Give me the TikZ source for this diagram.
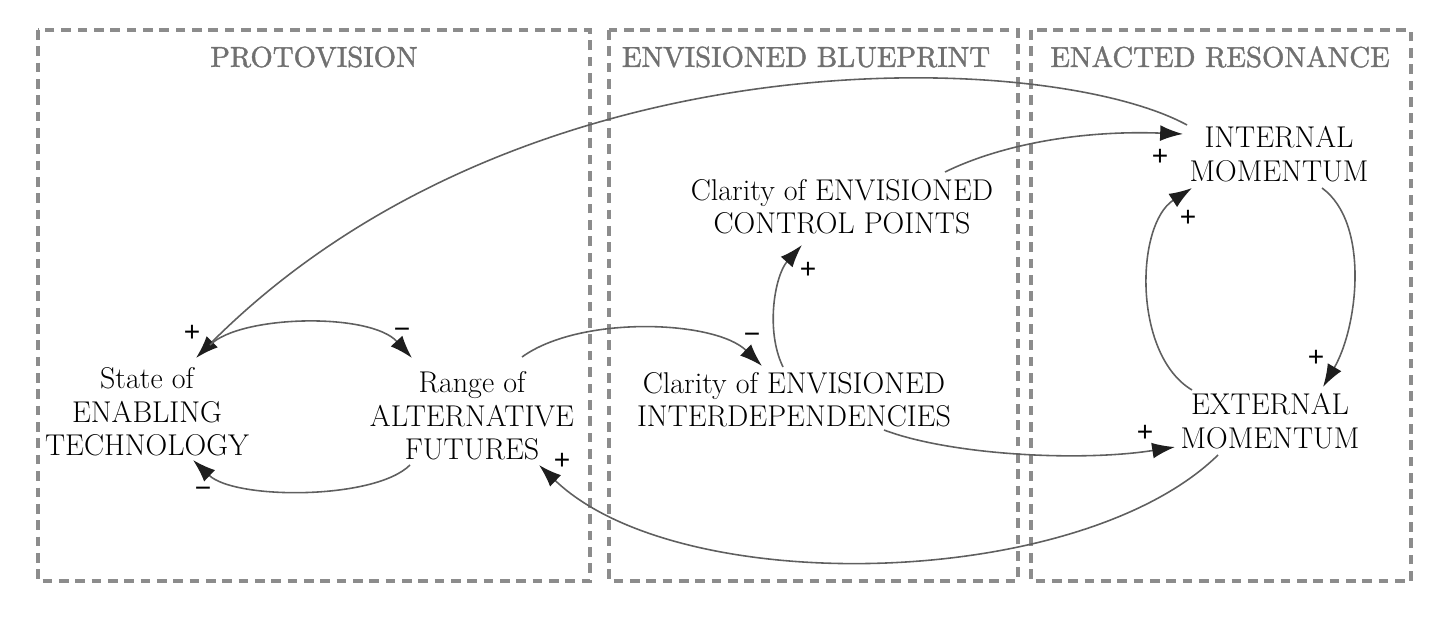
\documentclass[tikz,border=0pt]{standalone}
\usepackage{fontspec}
\newfontfamily\signfont{Liberation Sans}
\newfontfamily\titlefont[FakeBold=1.4]{lmroman10-regular.otf}
\usetikzlibrary{arrows.meta}
\definecolor{boxgray}{RGB}{140,140,140}
\definecolor{titlegray}{RGB}{112,112,112}
\definecolor{linegray}{RGB}{95,95,95}
\definecolor{tipgray}{RGB}{30,30,30}
\begin{document}
\begin{tikzpicture}[x=0.02cm,y=-0.02cm,
  var/.style={font=\fontsize{17.1}{19}\selectfont, align=center, inner sep=0pt},
  title/.style={font=\titlefont\fontsize{16.4}{20}\selectfont, text=titlegray, inner sep=0pt},
  region/.style={draw=boxgray, line width=2pt, dash pattern=on 5.5pt off 3.8pt},
  link/.style={draw=linegray, line width=0.9pt, -{Latex[length=13pt,width=9pt,color=tipgray]}},
  sign/.style={font=\signfont\fontsize{16}{16}\selectfont, inner sep=0pt}
]
\useasboundingbox (0,0) rectangle (1456,618);
% regions
\draw[region] (38,30) rectangle (590,581);
\draw[region] (609,30) rectangle (1018,581);
\draw[region] (1031,30) rectangle (1411,581);
\node[title] (t1) at (314,57) {PROTOVISION};
\node[title] (t2) at (806,57) {ENVISIONED BLUEPRINT};
\node[title] (t3) at (1220,57) {ENACTED RESONANCE};
% variables
\node[var] (state) at (147,412) {State of\\ENABLING\\TECHNOLOGY};
\node[var] (range) at (472,416) {Range of\\ALTERNATIVE\\FUTURES};
\node[var] (interdep) at (794,400) {Clarity of ENVISIONED\\INTERDEPENDENCIES};
\node[var] (control) at (842,207) {Clarity of ENVISIONED\\CONTROL POINTS};
\node[var] (internal) at (1279,154) {INTERNAL\\MOMENTUM};
\node[var] (external) at (1270,421) {EXTERNAL\\MOMENTUM};
% links
\draw[link] ([shift={(-92,-29)}]internal.center) .. controls +(-137,-75) and +(330,-330) .. ([shift={(49,-54)}]state.center);
\draw[link] ([shift={(63,-67)}]state.center) .. controls +(30,-30) and +(-42,-46) .. ([shift={(-60,-58)}]range.center);
\draw[link] ([shift={(-62,49)}]range.center) .. controls +(-35,35) and +(42,40) .. ([shift={(46,48)}]state.center);
\draw[link] ([shift={(50,-59)}]range.center) .. controls +(58,-42) and +(-47,-46) .. ([shift={(-32,-34)}]interdep.center);
\draw[link] ([shift={(-11,-33)}]interdep.center) .. controls +(-18,-37) and +(-27,30) .. ([shift={(-40,38)}]control.center);
\draw[link] ([shift={(103,-35)}]control.center) .. controls +(55,-27) and +(-103,-4) .. ([shift={(-96,-20)}]internal.center);
\draw[link] ([shift={(90,30)}]interdep.center) .. controls +(66,25) and +(-95,15) .. ([shift={(-95,26)}]external.center);
\draw[link] ([shift={(43,34)}]internal.center) .. controls +(48,35) and +(35,-60) .. ([shift={(53,-34)}]external.center);
\draw[link] ([shift={(-78,-31)}]external.center) .. controls +(-59,-35) and +(-57,37) .. ([shift={(-87,34)}]internal.center);
\draw[link] ([shift={(-52,34)}]external.center) .. controls +(-138,135) and +(141,135) .. ([shift={(67,49)}]range.center);
% polarity signs
\node[sign] (p1) at (192,333) {+};
\node[sign] (p2) at (402,333) {−};
\node[sign] (p3) at (203,492) {−};
\node[sign] (p4) at (752,338) {−};
\node[sign] (p5) at (808,270) {+};
\node[sign] (p6) at (1160,157) {+};
\node[sign] (p7) at (1145,433) {+};
\node[sign] (p8) at (1316,358) {+};
\node[sign] (p9) at (1188,218) {+};
\node[sign] (p10) at (562,461) {+};
\end{tikzpicture}
\end{document}
